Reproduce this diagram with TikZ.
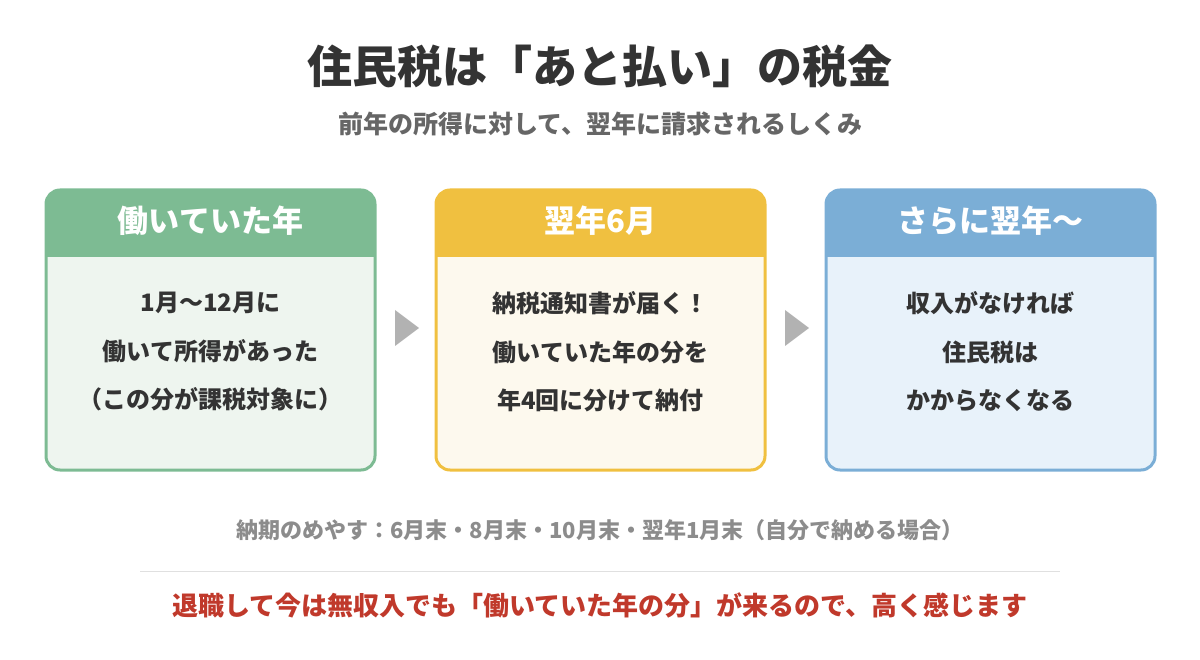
\documentclass[tikz,border=0pt]{standalone}
\usepackage{fontspec}
\setmainfont{Noto Sans CJK JP}
\definecolor{dark}{HTML}{333333}
\definecolor{gtext}{HTML}{666666}
\definecolor{g1}{HTML}{7DBB93}\definecolor{g2}{HTML}{EEF5EF}
\definecolor{y1}{HTML}{F0C040}\definecolor{y2}{HTML}{FDF9EE}
\definecolor{b1}{HTML}{7BAED6}\definecolor{b2}{HTML}{E8F2FA}
\definecolor{redt}{HTML}{C0392B}
\begin{document}
\begin{tikzpicture}[x=1pt,y=-1pt,
 body/.style={font=\fontsize{24}{48.5}\selectfont\bfseries,text=dark,align=center},
 head/.style={font=\fontsize{31}{34}\selectfont\bfseries,text=white},
 tri/.style={fill=black!30}]
\useasboundingbox (0,0) rectangle (1200,660);
\node[font=\fontsize{45}{48}\selectfont\bfseries,text=dark] (title) at (600,66) {住民税は「あと払い」の税金};
\node[font=\fontsize{25}{28}\selectfont\bfseries,text=gtext] (sub) at (600,124) {前年の所得に対して、翌年に請求されるしくみ};
\foreach \x/\c/\d/\n in {46/g1/g2/a,436/y1/y2/b,826/b1/b2/c}{
  \fill[\d,rounded corners=14] (\x,190) rectangle ++(329,280);
  \fill[\c,rounded corners=14] (\x,190) rectangle ++(329,40);
  \fill[\c] (\x,215) rectangle ++(329,42);
  \draw[\c,line width=3,rounded corners=14] (\x,190) rectangle ++(329,280);
}
\node[head] (ha) at (210.5,221) {働いていた年};
\node[head] (hb) at (600.5,221) {翌年6月};
\node[head] (hc) at (990.5,221) {さらに翌年〜};
\node[body] (ba) at (210.5,352) {1月〜12月に\\働いて所得があった\\（この分が課税対象に）};
\node[body] (bb) at (600.5,352) {納税通知書が届く！\\働いていた年の分を\\年4回に分けて納付};
\node[body] (bc) at (990.5,352) {収入がなければ\\住民税は\\かからなくなる};
\fill[tri] (395,310) -- (419,328) -- (395,346) -- cycle;
\fill[tri] (785,310) -- (809,328) -- (785,346) -- cycle;
\node[font=\fontsize{22}{24}\selectfont\bfseries,text=black!45] (note) at (600,530) {納期のめやす：6月末・8月末・10月末・翌年1月末（自分で納める場合）};
\draw[black!12,line width=1] (140,571) -- (1060,571);
\node[font=\fontsize{26}{28}\selectfont\bfseries,text=redt] (warn) at (600,605) {退職して今は無収入でも「働いていた年の分」が来るので、高く感じます};
\end{tikzpicture}
\end{document}
